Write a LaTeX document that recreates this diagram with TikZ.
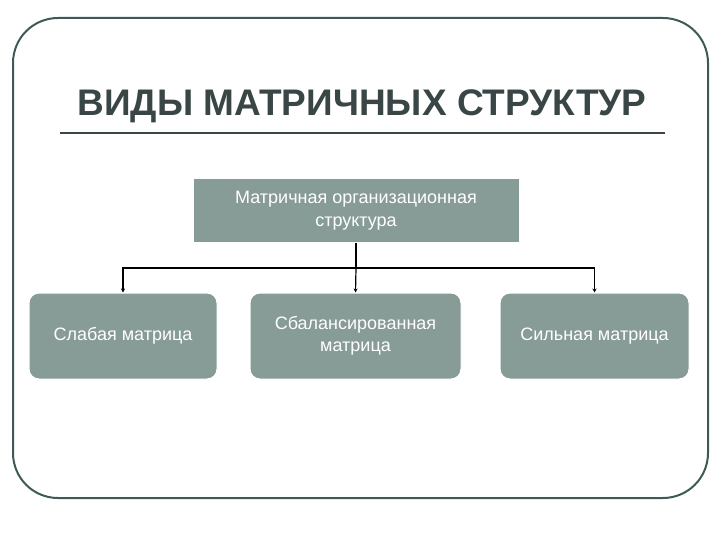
\documentclass[tikz,border=0pt]{standalone}
\usepackage{fontspec}
\usetikzlibrary{arrows.meta}
\setmainfont{Liberation Sans}
\begin{document}
\begin{tikzpicture}[x=1pt,y=-1pt,
  box/.style={fill=boxc,draw=white,line width=1pt,text=white,font=\fontsize{18}{22}\selectfont,align=center,inner sep=0pt},
  conn/.style={line width=1.2pt,black},
  arr/.style={conn,-{Stealth[length=4pt,width=4pt]}}]
\definecolor{boxc}{HTML}{879B97}
\definecolor{framec}{HTML}{3E5A57}
\definecolor{titlec}{HTML}{3A4646}
\useasboundingbox (0,0) rectangle (720,540);
\draw[framec,line width=2pt,rounded corners=45pt] (13,18) rectangle (708,498);
\node[font=\bfseries\fontsize{37}{40}\selectfont,text=titlec] (title) at (362,106) {ВИДЫ МАТРИЧНЫХ СТРУКТУР};
\draw[titlec,line width=2pt] (60,133) -- (665,133);
\node[box,font=\fontsize{18}{23}\selectfont,minimum width=326pt,minimum height=63pt] (top) at (356,210.5) {Матричная организационная\\структура};
\node[box,rounded corners=10pt,minimum width=188pt,minimum height=86pt] (b1) at (123,336) {Слабая матрица};
\node[box,rounded corners=10pt,minimum width=211pt,minimum height=86pt] (b2) at (355.5,336) {Сбалансированная\\матрица};
\node[box,rounded corners=10pt,minimum width=189pt,minimum height=86pt] (b3) at (594.5,336) {Сильная матрица};
\coordinate (j) at (356,268);
\draw[conn] (top.south) -- (j);
\draw[arr] (j) -| (b1.north);
\draw[arr] (j) -- (b2.north);
\draw[arr] (j) -| (b3.north);
\end{tikzpicture}
\end{document}
